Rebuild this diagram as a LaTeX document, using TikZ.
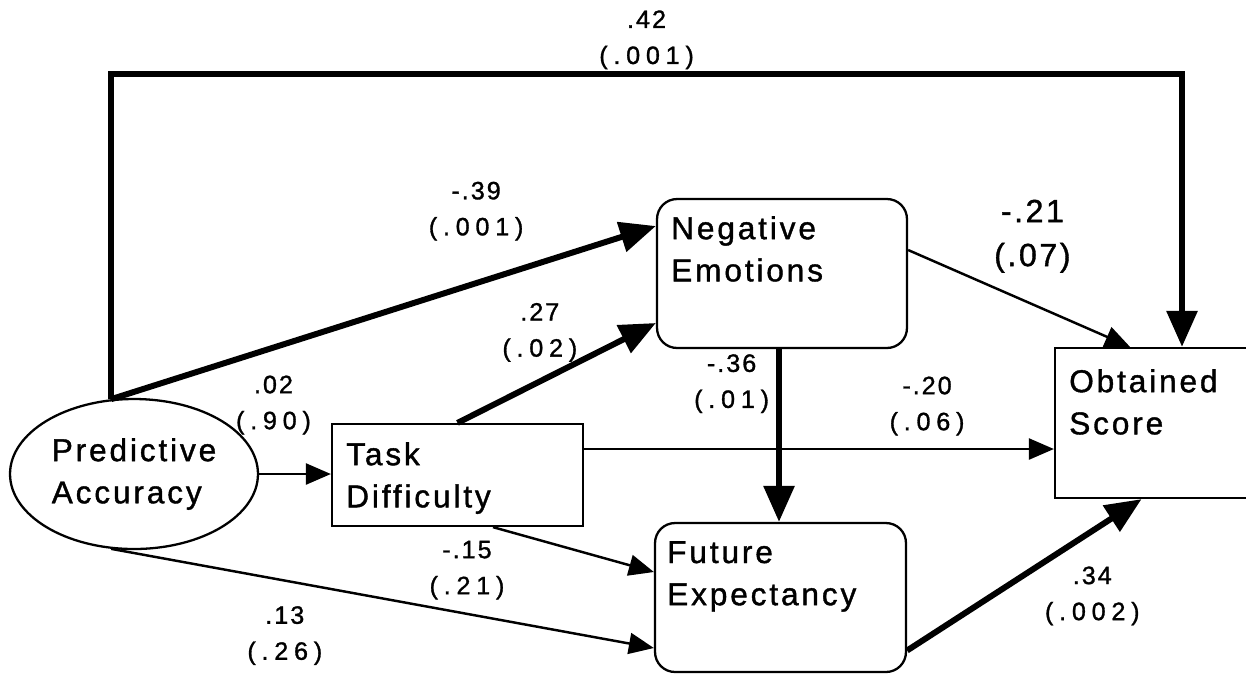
\documentclass[tikz,border=0pt]{standalone}
\usepackage{fontspec}
\setmainfont{Liberation Sans}
\newfontfamily\boxfont[LetterSpace=9, FakeBold=1.2]{Liberation Sans}
\newfontfamily\coeffont[LetterSpace=8, FakeBold=1.2]{Liberation Sans}
\newfontfamily\pvfont[LetterSpace=23, FakeBold=1.2]{Liberation Sans}
\usetikzlibrary{shapes.geometric, arrows.meta, positioning, calc}
\newcommand{\est}[2]{#1\\{\pvfont #2}}
\tikzset{
  % --- Variablen ------------------------------------------
  latent/.style={draw, ellipse, line width=1.3pt, minimum width=4.96cm,
    minimum height=3cm, inner sep=0pt, align=left,
    font=\boxfont\fontsize{18}{24}\selectfont},
  obsbox/.style={draw, line width=1.3pt},
  rbox/.style={obsbox, rounded corners=0.4cm},
  boxtxt/.style={anchor=north west, inner sep=0pt, align=left,
    font=\boxfont\fontsize{18}{24}\selectfont},
  % --- Pfade ----------------------------------------------
  pthin/.style={line width=1.4pt, -{Triangle[length=0.5cm, width=0.42cm]}},
  pthick/.style={line width=3.4pt, -{Triangle[length=0.72cm, width=0.6cm]}},
  lbl/.style={inner sep=0pt, align=center,
    font=\coeffont\fontsize{14.3}{20.5}\selectfont},
  lblbig/.style={lbl, font=\coeffont\fontsize{18.3}{25}\selectfont}
}
\begin{document}
\begin{tikzpicture}[x=0.02cm, y=-0.02cm]
  \useasboundingbox (0,0) rectangle (1246,674);

  % --- Variablen ---
  \node[latent] (pa) at (134,474) {Predictive\\Accuracy};
  \node[obsbox, minimum width=5.02cm, minimum height=2.04cm] (td) at (457.5,475) {};
  \node[boxtxt] (td-t) at ([shift={(15,19)}]td.north west) {Task\\Difficulty};
  \node[rbox, minimum width=5cm, minimum height=2.98cm] (ne) at (782,273.5) {};
  \node[boxtxt] (ne-t) at ([shift={(15,18)}]ne.north west) {Negative\\Emotions};
  \node[rbox, minimum width=5.02cm, minimum height=2.98cm] (fe) at (780.5,597.5) {};
  \node[boxtxt] (fe-t) at ([shift={(13,19)}]fe.north west) {Future\\Expectancy};
  \node[obsbox, minimum width=3.94cm, minimum height=3cm] (os) at (1153.5,423) {};
  \node[boxtxt] (os-t) at ([shift={(15,22)}]os.north west) {Obtained\\Score};

  % --- direkte Pfade (dick = signifikant) ---
  \draw[pthick] (pa.107) |- node[lbl, pos=0.75, above=1pt] (l-top) {\est{.42}{(.001)}}
            ([xshift=0.57cm, yshift=5.46cm]os.north) -- ([xshift=0.57cm]os.north);
  \draw[pthick] (pa.107) -- node[lbl, pos=.67, shift={(0,-72)}] (l-pa-ne) {\est{-.39}{(.001)}}
            ([yshift=0.95cm]ne.west);
  \draw[pthick] (td.north) -- node[lbl, pos=.415, shift={(0,-49)}] (l-td-ne) {\est{.27}{(.02)}}
            ([yshift=-0.99cm]ne.west);
  \draw[pthin] (pa.east) -- node[lbl, pos=.2, shift={(0,-69)}] (l-pa-td) {\est{.02}{(.90)}}
            (pa.east -| td.west);
  \draw[pthin] ([yshift=0.52cm]td.east) -- node[lbl, pos=.73, shift={(0,-43)}] (l-td-os) {\est{-.20}{(.06)}}
            ([yshift=0.52cm]td.east -| os.west);
  \draw[pthick] ([xshift=-0.06cm]ne.south) -- node[lbl, pos=.2, left=4pt] (l-ne-fe) {\est{-.36}{(.01)}}
            ([xshift=-0.06cm]ne.south |- fe.north);
  \draw[pthin] ([yshift=0.47cm]ne.east) -- node[lblbig, pos=.56, shift={(0,-68)}] (l-ne-os) {-.21\\(.07)}
            ([xshift=-0.47cm]os.north);
  \draw[pthin] ([xshift=0.71cm]td.south) -- node[lbl, pos=0, shift={(-26,43)}] (l-td-fe) {\est{-.15}{(.21)}}
            ([yshift=0.51cm]fe.west);
  \draw[pthin] (pa.253) -- node[lbl, pos=.32, shift={(0,55)}] (l-pa-fe) {\est{.13}{(.26)}}
            ([yshift=-1.01cm]fe.west);
  \draw[pthick] ([yshift=-1.06cm]fe.east) -- node[lbl, pos=.79, shift={(0,65)}] (l-fe-os) {\est{.34}{(.002)}}
            ([xshift=-0.24cm]os.south);

\end{tikzpicture}
\end{document}
